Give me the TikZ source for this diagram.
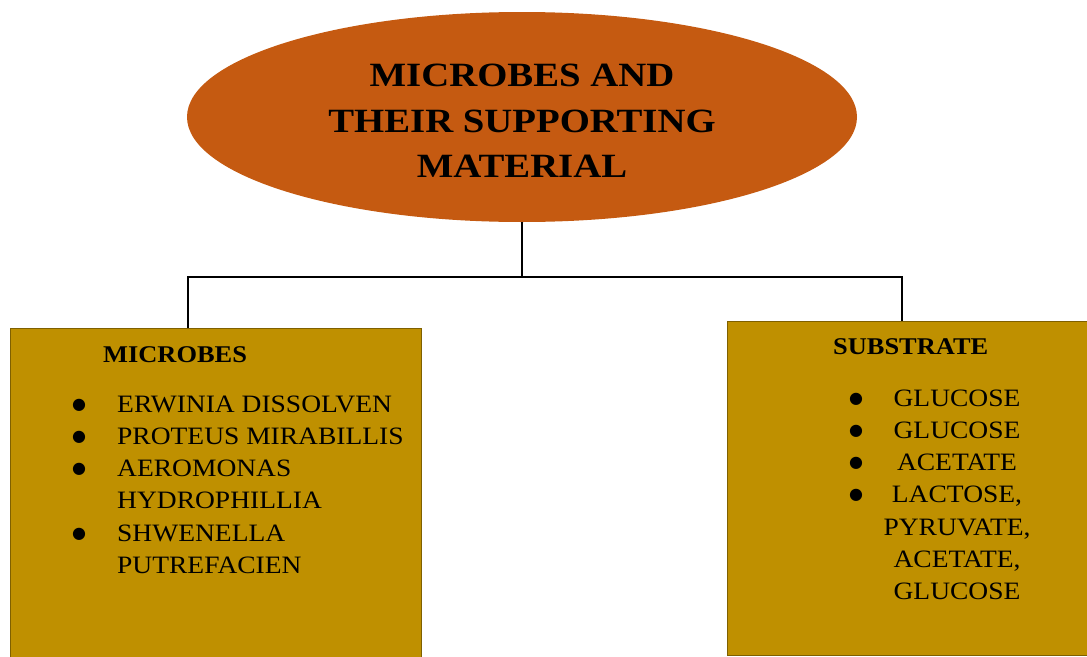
\documentclass[tikz,border=0pt]{standalone}
\usepackage{fontspec}
\setmainfont{Liberation Serif}[FakeStretch=1.1]
\newfontfamily\titlefont{Liberation Serif}[FakeStretch=1.14]
\newfontfamily\dotfont{DejaVu Sans}
\usetikzlibrary{shapes.geometric}
\definecolor{titleorange}{HTML}{C55A11}
\definecolor{boxgold}{HTML}{BF9000}
\definecolor{boxedge}{HTML}{7F6000}
\newcommand{\itemdot}{\raisebox{3pt}{\dotfont\fontsize{16}{16}\selectfont ●}}

\begin{document}
\begin{tikzpicture}[
    x=1pt, y=-1pt,
    % Style definitions
    title/.style={ellipse, minimum width=670pt, minimum height=210pt, fill=titleorange},
    titletext/.style={align=center, inner sep=0pt, font=\titlefont\fontsize{34}{45.5}\selectfont\bfseries},
    panel/.style={rectangle, fill=boxgold, draw=boxedge, line width=1.2pt, anchor=north west},
    heading/.style={anchor=base west, inner sep=0pt, font=\fontsize{24}{32.5}\selectfont\bfseries},
    items/.style={anchor=base west, inner sep=0pt, font=\fontsize{25}{32.3}\selectfont},
    link/.style={line width=2.5pt},
]
\useasboundingbox (0,0) rectangle (1087,656);

% Title
\node[title] (title) at (522,117) {};
\node[titletext] (title text) at (522,121) {MICROBES AND\\THEIR SUPPORTING\\MATERIAL};

% Boxes
\node[panel, minimum width=411pt, minimum height=360pt] (microbes) at (10,328) {};
\node[panel, minimum width=368pt, minimum height=334pt] (substrate) at (727,321) {};

% Microbes list
\node[heading] (microbes head) at (103,362) {MICROBES};
\node[items] (microbes list) at (72,412) {\begin{tabular}[t]{@{}p{45pt}@{}l@{}}
    \itemdot & ERWINIA DISSOLVEN\\
    \itemdot & PROTEUS MIRABILLIS\\
    \itemdot & AEROMONAS\\
             & HYDROPHILLIA\\
    \itemdot & SHWENELLA\\
             & PUTREFACIEN
\end{tabular}};

% Substrate list
\node[heading] (substrate head) at (833,354) {SUBSTRATE};
\node[items] (substrate bullets) at (849,406) {\begin{tabular}[t]{@{}l@{}}\itemdot\\\itemdot\\\itemdot\\\itemdot\end{tabular}};
\node[items, anchor=base] (substrate list) at (957,406) {\begin{tabular}[t]{@{}c@{}}
    GLUCOSE\\ GLUCOSE\\ ACETATE\\ LACTOSE,\\ PYRUVATE,\\ ACETATE,\\ GLUCOSE
\end{tabular}};

% Connectors
\coordinate (bus left) at (188,277);
\coordinate (bus right) at (902,277);
\draw[link] (title.south) -- (title.south |- bus left);
\draw[link] (bus left |- microbes.north) -- (bus left) -- (bus right) -- (bus right |- substrate.north);

\end{tikzpicture}
\end{document}
